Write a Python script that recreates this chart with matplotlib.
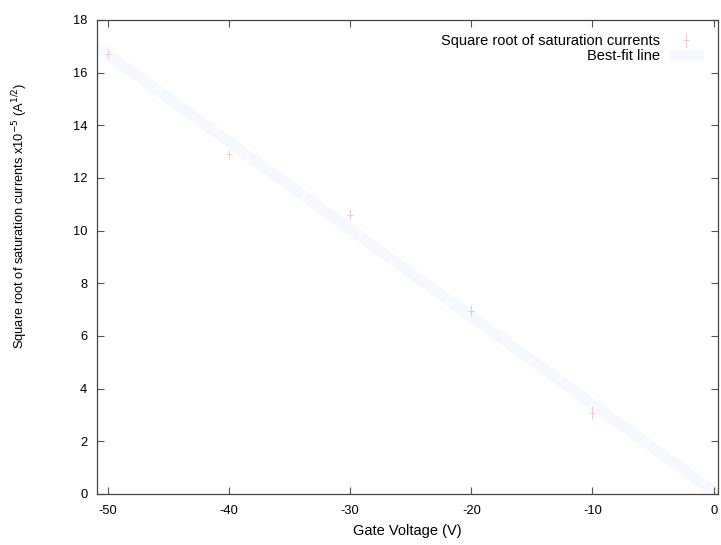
import numpy as np
import matplotlib
matplotlib.use("Agg")
import matplotlib.pyplot as plt

plt.rcParams['font.family'] = ['Liberation Sans', 'DejaVu Sans']
plt.rcParams['axes.unicode_minus'] = False

# Gate voltage (V) and square root of saturation current (x1e-5 A^1/2)
gate_voltage = [-50, -40, -30, -20, -10]
sqrt_current = [16.7, 12.9, 10.6, 6.96, 3.08]
current_err = [0.15, 0.15, 0.2, 0.2, 0.25]

x_ticks = [-50, -40, -30, -20, -10, 0]
y_ticks = [0, 2, 4, 6, 8, 10, 12, 14, 16, 18]

fig = plt.figure(figsize=(7.21, 5.45), dpi=100)
ax = fig.add_axes([0.1345, 0.0936, 0.862, 0.870])

# Least-squares best-fit line through the measurements
slope, intercept = np.polyfit(gate_voltage, sqrt_current, 1)
xfit = np.array([-50.9, 0.4])
ax.plot(xfit, slope * xfit + intercept, color='#f5f8fd', lw=8,
        solid_capstyle='butt', label='Best-fit line', zorder=1)

ax.errorbar(gate_voltage, sqrt_current, yerr=current_err, fmt='+',
            color='#eec8cb', ms=4, mew=0.7, elinewidth=0.7, capsize=0,
            label='Square root of saturation currents', zorder=2)

ax.set_xlim(-50.9, 0.4)
ax.set_ylim(0, 18)
ax.set_xticks(x_ticks)
ax.set_yticks(y_ticks)
ax.tick_params(direction='in', top=True, right=True, length=5,
               width=0.8, color='#555555', labelsize=9.3)
ax.tick_params(axis='x', pad=8)
ax.tick_params(axis='y', pad=7)
for s in ax.spines.values():
    s.set_color('#444444')
    s.set_linewidth(0.9)

ax.set_xlabel('Gate Voltage (V)', fontsize=10.5, labelpad=5)
ax.set_ylabel('Square root of saturation currents x10$^{-5}$ (A$^{1/2}$)',
              fontsize=9.3)
ax.yaxis.set_label_coords(-0.108, 0.587)

handles, labels = ax.get_legend_handles_labels()
leg = ax.legend(handles[::-1], labels[::-1], loc='upper right',
                frameon=False, markerfirst=False, fontsize=10.5,
                handlelength=2.4, labelspacing=0.05,
                borderaxespad=0.6, handletextpad=0.6)

fig.savefig('out.png', dpi=100, facecolor='white')
